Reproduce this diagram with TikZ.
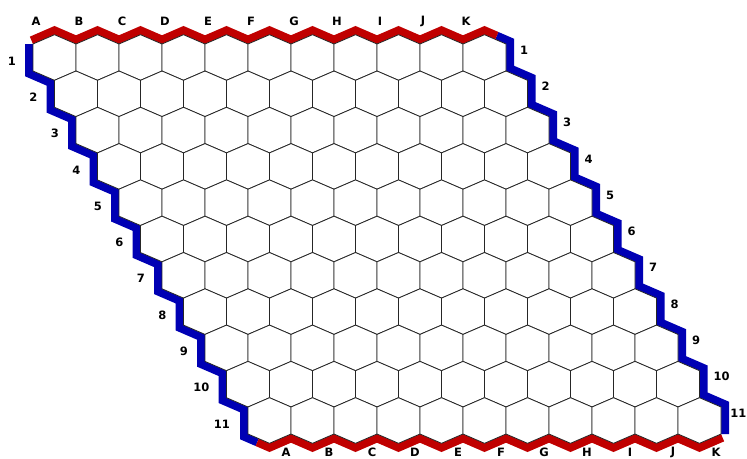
\documentclass[tikz,border=0pt]{standalone}
\usepackage{fontspec}
\setmainfont{DejaVu Sans}
\definecolor{bordred}{RGB}{192,0,0}
\definecolor{bordblue}{RGB}{0,0,180}
\tikzset{
  redb/.style={draw=bordred,line width=16pt,line join=miter,line cap=butt},
  blueb/.style={draw=bordblue,line width=16pt,line join=miter,line cap=butt},
  hexcell/.style={fill=white,draw=black!85,line width=0.8pt,line join=miter},
  lbl/.style={inner sep=0pt,font=\fontsize{11.5}{13}\selectfont\bfseries,text=black}
}
\begin{document}
\begin{tikzpicture}[x=1pt,y=-1pt]
\useasboundingbox[fill=white] (0,0) rectangle (747,458);
% borders (outer half remains visible)
\draw[blueb] (33,44) -- (33,71)
  \foreach \r in {1,...,10} { -- ({33+21.5*\r},{44+36.3*\r}) -- ({33+21.5*\r},{71+36.3*\r}) }
  -- (258.75,438.65);
\draw[blueb] (495.25,39.35)
  \foreach \r in {0,...,10} { -- ({506+21.5*\r},{44+36.3*\r}) -- ({506+21.5*\r},{71+36.3*\r}) };
\draw[redb] (33,44)
  \foreach \c in {0,...,9} { -- ({54.5+43*\c},34.7) -- ({76+43*\c},44) }
  -- (484.5,34.7) -- (495.25,39.35);
\draw[redb] (258.75,438.65)
  \foreach \c in {0,...,10} { -- ({269.5+43*\c},443.3) -- ({291+43*\c},434) };
% hex cells
\foreach \r in {0,...,10} {
  \foreach \c in {0,...,10} {
    \pgfmathsetmacro\cx{54.5+43*\c+21.5*\r}
    \pgfmathsetmacro\cy{57.5+36.3*\r}
    \filldraw[hexcell,shift={(\cx,\cy)}] (0,-22.8) -- (21.5,-13.5) -- (21.5,13.5)
      -- (0,22.8) -- (-21.5,13.5) -- (-21.5,-13.5) -- cycle;
  }
}
% column labels
\foreach \c/\l in {0/A,1/B,2/C,3/D,4/E,5/F,6/G,7/H,8/I,9/J,10/K} {
  \node[lbl] (top\l) at ({36+43*\c},21.5) {\l};
  \node[lbl] (bot\l) at ({286+43*\c},452) {\l};
}
% row labels
\foreach \r in {0,...,9} {
  \pgfmathtruncatemacro\n{\r+1}
  \node[lbl,anchor=east] (left\n) at ({16+21.5*\r},{61+36.3*\r}) {\n};
  \node[lbl,anchor=west] (right\n) at ({520+21.5*\r},{50+36.3*\r}) {\n};
}
\node[lbl,anchor=east] (left11) at (230,424) {11};
\node[lbl,anchor=east] (right11) at (746.5,413) {11};
\end{tikzpicture}
\end{document}
